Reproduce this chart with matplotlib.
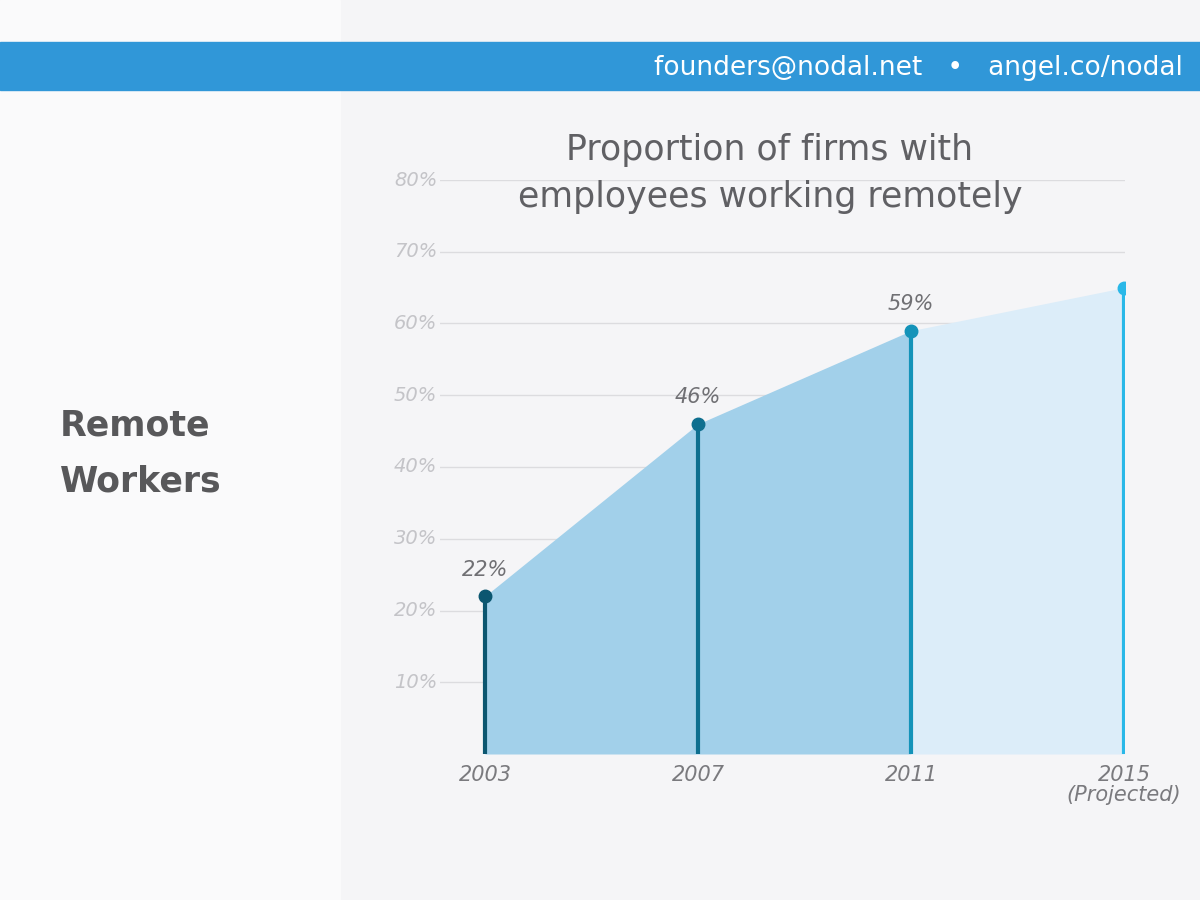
import matplotlib
matplotlib.use("Agg")
import matplotlib.pyplot as plt
from matplotlib.patches import Rectangle

years = [2003, 2007, 2011, 2015]
values = [22, 46, 59, 65]
value_labels = ["22%", "46%", "59%", ""]
year_labels = ["2003", "2007", "2011", "2015\n(Projected)"]
yticks = [10, 20, 30, 40, 50, 60, 70, 80]
stem_colors = ["#0b5670", "#0e6f8f", "#1393b9", "#2ab8e8"]

W, H = 1200, 900
fig = plt.figure(figsize=(12, 9), dpi=100)
fig.patch.set_facecolor("#f5f5f7")
fig.add_artist(Rectangle((0, 0), 340 / W, 1, transform=fig.transFigure, color="#fafafb", zorder=0))
fig.add_artist(Rectangle((0, 1 - 90 / H), 1, 48 / H, transform=fig.transFigure, color="#3097d8", zorder=1))
fig.text(1183 / W, 1 - 68 / H, "founders@nodal.net   •   angel.co/nodal", color="white",
         fontsize=19, ha="right", va="center", zorder=2)
fig.text(60 / W, 1 - 425 / H, "Remote", fontsize=25, fontweight="bold", color="#58585a", va="center")
fig.text(60 / W, 1 - 481 / H, "Workers", fontsize=25, fontweight="bold", color="#58585a", va="center")

ax = fig.add_axes([440 / W, 1 - 754 / H, 685 / W, 574 / H])
ax.set_facecolor("none")
x0 = 2003 - 45 / 53.25
ax.set_xlim(x0, x0 + 685 / 53.25)
ax.set_ylim(0, 80)
for s in ax.spines.values():
    s.set_visible(False)
ax.set_xticks([])
ax.set_yticks([])
for t in yticks:
    ax.axhline(t, color="#dcdcdf", lw=1, zorder=1)
    ax.text(x0 - 0.05, t, f"{t}%", ha="right", va="center", fontsize=14, style="italic", color="#c4c4c8")

ax.fill_between(years[:3], values[:3], 0, color="#a2d0ea", zorder=2, lw=0)
ax.fill_between(years[2:], values[2:], 0, color="#dcedf9", zorder=2, lw=0)
for x, v, c, lab, yl in zip(years, values, stem_colors, value_labels, year_labels):
    ax.plot([x, x], [0, v], color=c, lw=3, zorder=3)
    ax.plot(x, v, "o", color=c, ms=9, zorder=4)
    if lab:
        ax.text(x, v + 2.3, lab, ha="center", va="bottom", fontsize=15, style="italic", color="#707074")
    ax.text(x, -1.6, yl, ha="center", va="top", fontsize=15, style="italic", color="#7a7a7e",
            linespacing=1.0)

fig.text(770 / W, 1 - 150 / H, "Proportion of firms with", ha="center", va="center", fontsize=25, color="#606064")
fig.text(770 / W, 1 - 197 / H, "employees working remotely", ha="center", va="center", fontsize=25, color="#606064")

fig.savefig("out.png", dpi=100, facecolor=fig.get_facecolor())
